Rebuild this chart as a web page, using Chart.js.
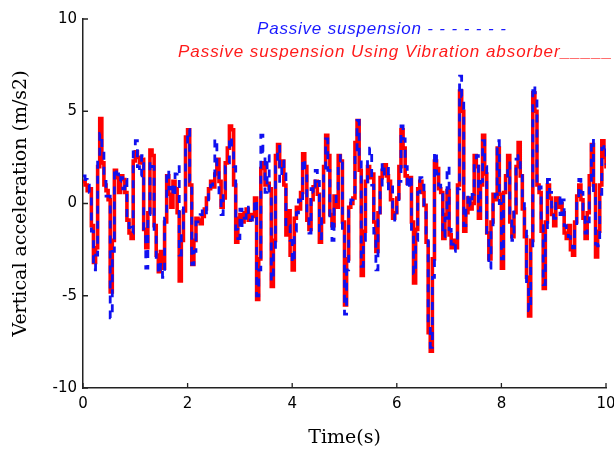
<!DOCTYPE html>
<html>
<head>
<meta charset="utf-8">
<script src="https://cdn.jsdelivr.net/npm/chart.js@4.4.0/dist/chart.umd.min.js"></script>
<style>
  html, body { margin: 0; padding: 0; background: #fff; }
  #wrap { position: relative; width: 614px; height: 452px; overflow: hidden; }
  canvas { position: absolute; left: 0; top: 0; }
  .leg { position: absolute; font-family: 'Liberation Sans', Arial, sans-serif; font-style: italic; font-size: 17px; white-space: nowrap; letter-spacing: 0.8px; }
  #leg1 { left: 257px; top: 19px; color: #1a1aff; }
  #leg2 { left: 178px; top: 42px; color: #ff1a1a; letter-spacing: 0.95px; }
  .dash { letter-spacing: 6.5px; }
  .und { letter-spacing: 1px; }
</style>
</head>
<body>
<div id="wrap">
  <canvas id="c" width="614" height="452"></canvas>
  <div class="leg" id="leg1">Passive suspension <span class="dash">-------</span></div>
  <div class="leg" id="leg2">Passive suspension Using Vibration absorber<span class="und">_____</span></div>
</div>
<script>
const times = [0.00,0.04,0.08,0.12,0.16,0.20,0.24,0.28,0.32,0.36,0.40,0.44,0.48,0.52,0.56,0.60,0.64,0.68,0.72,0.76,0.80,0.84,0.88,0.92,0.96,1.00,1.04,1.08,1.12,1.16,1.20,1.24,1.28,1.32,1.36,1.40,1.44,1.48,1.52,1.56,1.60,1.64,1.68,1.72,1.76,1.80,1.84,1.88,1.92,1.96,2.00,2.04,2.08,2.12,2.16,2.20,2.24,2.28,2.32,2.36,2.40,2.44,2.48,2.52,2.56,2.60,2.64,2.68,2.72,2.76,2.80,2.84,2.88,2.92,2.96,3.00,3.04,3.08,3.12,3.16,3.20,3.24,3.28,3.32,3.36,3.40,3.44,3.48,3.52,3.56,3.60,3.64,3.68,3.72,3.76,3.80,3.84,3.88,3.92,3.96,4.00,4.04,4.08,4.12,4.16,4.20,4.24,4.28,4.32,4.36,4.40,4.44,4.48,4.52,4.56,4.60,4.64,4.68,4.72,4.76,4.80,4.84,4.88,4.92,4.96,5.00,5.04,5.08,5.12,5.16,5.20,5.24,5.28,5.32,5.36,5.40,5.44,5.48,5.52,5.56,5.60,5.64,5.68,5.72,5.76,5.80,5.84,5.88,5.92,5.96,6.00,6.04,6.08,6.12,6.16,6.20,6.24,6.28,6.32,6.36,6.40,6.44,6.48,6.52,6.56,6.60,6.64,6.68,6.72,6.76,6.80,6.84,6.88,6.92,6.96,7.00,7.04,7.08,7.12,7.16,7.20,7.24,7.28,7.32,7.36,7.40,7.44,7.48,7.52,7.56,7.60,7.64,7.68,7.72,7.76,7.80,7.84,7.88,7.92,7.96,8.00,8.04,8.08,8.12,8.16,8.20,8.24,8.28,8.32,8.36,8.40,8.44,8.48,8.52,8.56,8.60,8.64,8.68,8.72,8.76,8.80,8.84,8.88,8.92,8.96,9.00,9.04,9.08,9.12,9.16,9.20,9.24,9.28,9.32,9.36,9.40,9.44,9.48,9.52,9.56,9.60,9.64,9.68,9.72,9.76,9.80,9.84,9.88,9.92,9.96,10.00];

const absorber = [1.2,1.0,0.7,0.8,-1.2,-3.2,-2.4,2.0,4.6,2.2,1.0,0.7,0.2,-4.8,-2.0,1.8,1.4,0.6,1.5,1.3,0.6,-0.9,-1.6,-1.9,2.3,2.8,2.5,2.2,2.4,-1.4,-2.4,-0.5,2.9,2.6,-1.2,-2.8,-3.7,-2.6,-3.5,-1.0,1.5,0.5,-0.2,1.2,0.8,-0.5,-4.2,-2.0,-0.4,3.6,4.0,1.0,-3.3,-2.0,-0.8,-0.9,-1.1,-0.7,-0.3,0.3,0.8,1.2,0.9,1.6,2.4,1.2,-0.2,0.3,2.2,3.0,4.2,4.0,1.0,-2.1,-0.8,-0.6,-1.0,-0.5,-0.3,-0.9,-0.6,-0.7,0.3,-5.2,-3.0,1.9,2.2,1.0,1.1,0.8,-4.5,-2.0,2.6,3.2,2.0,2.3,1.0,-1.7,-0.4,-2.8,-3.6,-0.8,-0.2,-0.3,0.6,2.7,2.0,-0.9,-1.4,0.2,0.9,1.2,0.5,-2.1,-1.0,2.0,3.7,2.6,-0.6,-1.2,0.4,-0.2,2.6,2.3,-1.0,-5.5,-3.0,-0.2,0.0,0.3,3.3,4.5,1.8,-3.9,-1.5,1.2,2.0,1.4,1.6,-1.0,-2.6,-0.5,1.4,1.8,2.1,1.5,1.2,0.2,-0.8,-0.5,0.3,2.0,4.0,3.0,1.5,1.1,1.4,-1.0,-4.3,-1.4,0.8,1.2,0.6,-0.1,-2.1,-7.0,-8.0,-3.0,2.3,1.9,0.8,0.6,-1.9,-0.6,0.7,-1.7,-2.4,-2.0,-2.4,1.0,6.1,5.0,-1.5,-0.5,0.3,-0.3,0.0,2.6,2.0,-0.8,1.0,3.7,1.6,-1.6,-3.0,-1.0,0.5,0.2,3.0,0.5,-3.5,0.6,1.5,2.6,-1.0,-1.8,-0.5,2.0,3.3,1.5,-0.3,-1.8,-4.0,-6.1,-2.0,6.0,5.0,1.0,0.6,-1.5,-4.6,-1.0,1.0,0.3,-0.6,-1.2,0.3,-0.2,0.0,-0.5,-1.6,-1.9,-1.2,-2.5,-2.8,-1.0,0.4,1.0,0.2,-0.8,-1.9,-0.5,1.5,3.2,1.0,-2.9,-1.5,1.0,3.4,2.5,1.9];

const passive = [1.5,1.3,1.0,0.6,-1.5,-3.6,-2.8,2.5,3.8,3.0,1.2,0.4,0.4,-6.2,-2.6,1.9,1.6,1.2,1.4,0.8,1.3,-1.0,-1.3,-1.6,2.8,3.4,2.0,1.5,2.6,-1.8,-3.5,-0.6,2.3,2.0,-1.5,-3.2,-3.8,-3.3,-4.0,-0.8,1.8,0.8,1.1,0.4,1.6,2.0,-2.8,-1.5,0.0,3.0,4.0,1.2,-3.3,-2.6,-1.0,-0.8,-0.6,-0.3,-0.5,0.2,0.7,1.0,1.5,3.5,1.8,0.5,-0.6,0.8,2.0,2.2,3.6,3.0,2.0,-1.4,-1.9,-0.3,-1.2,-0.8,-0.2,-0.6,-0.9,-0.3,0.2,-5.0,-3.6,3.7,2.8,0.6,2.6,0.4,-4.2,-2.6,2.0,3.1,1.2,2.3,1.6,-1.3,-1.2,-2.0,-3.2,-1.5,-0.5,0.2,0.0,2.4,1.5,-0.4,-1.6,0.8,0.6,1.8,1.2,-1.9,-0.5,1.5,3.5,1.8,-0.8,-2.0,0.0,0.8,2.0,2.6,-1.5,-6.0,-3.6,-0.4,0.2,0.6,2.6,4.5,2.4,-3.4,-2.0,1.0,2.4,3.0,1.0,-1.6,-3.6,-0.9,1.0,2.2,1.6,1.9,0.8,1.0,-0.4,-0.9,0.0,1.2,4.2,3.5,2.0,0.8,1.5,-1.5,-3.8,-2.0,0.6,1.4,1.0,-0.5,-1.6,-6.6,-7.8,-4.0,2.8,1.6,1.0,0.8,-1.8,-0.8,2.0,-1.4,-2.2,-2.6,-2.2,0.8,6.9,5.8,-1.2,-0.2,0.5,-0.1,0.5,2.2,2.6,-0.4,1.2,3.4,2.0,-2.0,-3.5,-1.4,0.1,0.5,3.4,0.0,-3.0,0.8,1.2,2.2,-0.8,-2.0,-0.2,2.4,2.6,1.8,0.3,-1.5,-4.5,-5.8,-2.5,6.4,6.0,0.8,0.9,-1.2,-4.4,-1.5,1.3,0.6,-0.2,-0.8,0.1,0.3,-0.6,0.2,-1.2,-1.5,-1.8,-2.0,-2.4,-1.5,0.1,1.3,0.6,-0.4,-1.6,-1.0,1.0,3.5,0.4,-2.2,-2.3,0.5,3.0,3.2,2.1];

const xTicks = [0, 2, 4, 6, 8, 10];
const yTicks = [-10, -5, 0, 5, 10];

const toPts = arr => arr.map((v, i) => ({ x: times[i], y: v }));

const inwardTicks = {
  id: 'inwardTicks',
  afterDraw(chart) {
    const ctx = chart.ctx, a = chart.chartArea;
    const xs = chart.scales.x, ys = chart.scales.y;
    ctx.save();
    ctx.strokeStyle = '#222';
    ctx.lineWidth = 1.3;
    ctx.beginPath();
    xTicks.forEach(v => { const p = xs.getPixelForValue(v); ctx.moveTo(p, a.bottom); ctx.lineTo(p, a.bottom - 5); });
    yTicks.forEach(v => { const p = ys.getPixelForValue(v); ctx.moveTo(a.left, p); ctx.lineTo(a.left + 5, p); });
    ctx.stroke();
    ctx.restore();
  }
};

new Chart(document.getElementById('c'), {
  type: 'line',
  data: {
    datasets: [
      {
        label: 'Passive suspension Using Vibration absorber',
        data: toPts(absorber),
        borderColor: '#ff0000',
        borderWidth: 3.6,
        stepped: true,
        pointRadius: 0,
        fill: false,
        order: 2
      },
      {
        label: 'Passive suspension',
        data: toPts(passive),
        borderColor: '#1010f0',
        borderWidth: 2.8,
        borderDash: [8, 7],
        stepped: true,
        pointRadius: 0,
        fill: false,
        order: 1
      }
    ]
  },
  options: {
    responsive: false,
    animation: false,
    layout: { padding: { top: 19, right: 8, left: 0, bottom: 0 } },
    plugins: { legend: { display: false }, tooltip: { enabled: false } },
    scales: {
      x: {
        type: 'linear', min: 0, max: 10,
        afterBuildTicks: s => { s.ticks = xTicks.map(v => ({ value: v })); },
        afterFit: s => { s.height = 64; s.paddingLeft = 0; s.paddingRight = 0; },
        ticks: { color: '#000', font: { family: 'DejaVu Sans', size: 15 }, padding: 7, maxRotation: 0 },
        grid: { display: true, drawOnChartArea: false, drawTicks: false, color: 'rgba(0,0,0,0)' },
        border: { display: true, color: '#222', width: 1.5 },
        title: { display: true, text: 'Time(s)', color: '#000', font: { family: 'DejaVu Serif', size: 19 }, padding: { top: 0, bottom: 3 } }
      },
      y: {
        min: -10, max: 10,
        afterBuildTicks: s => { s.ticks = yTicks.map(v => ({ value: v })); },
        afterFit: s => { s.width = 83; s.paddingTop = 0; s.paddingBottom = 0; },
        ticks: { color: '#000', font: { family: 'DejaVu Sans', size: 15 }, padding: 6 },
        grid: { display: true, drawOnChartArea: false, drawTicks: false, color: 'rgba(0,0,0,0)' },
        border: { display: true, color: '#222', width: 1.5 },
        title: { display: true, text: 'Vertical acceleration (m/s2)', color: '#000', font: { family: 'DejaVu Serif', size: 19 }, padding: { top: 10, bottom: 0 } }
      }
    }
  },
  plugins: [inwardTicks]
});
</script>
</body>
</html>
